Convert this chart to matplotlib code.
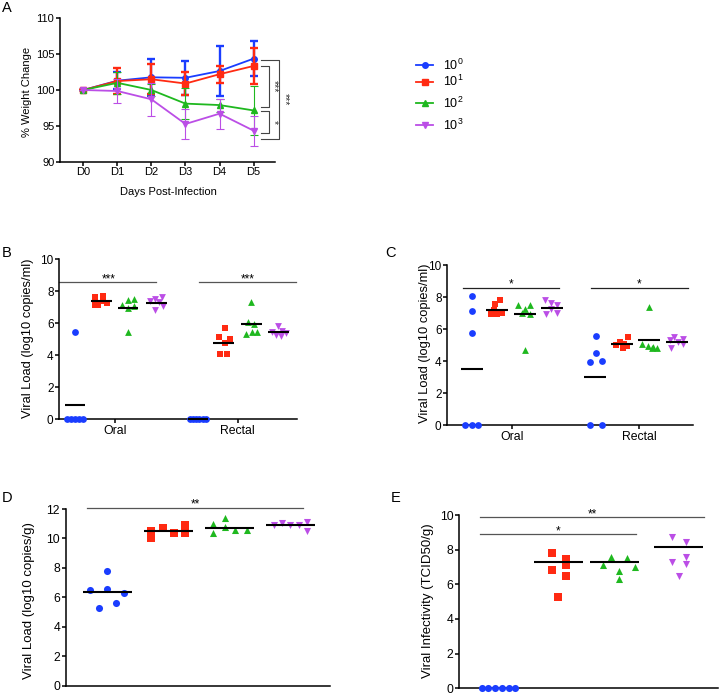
import matplotlib
matplotlib.use('Agg')
import matplotlib.pyplot as plt
from matplotlib.lines import Line2D

plt.rcParams['font.family'] = ['Liberation Sans', 'DejaVu Sans']
plt.rcParams['mathtext.fontset'] = 'custom'
plt.rcParams['mathtext.rm'] = 'Liberation Sans'
plt.rcParams['mathtext.it'] = 'Liberation Sans:italic'
plt.rcParams['mathtext.bf'] = 'Liberation Sans:bold'

# ---------------- data ----------------
dose_labels = [r'$\mathregular{10^0}$', r'$\mathregular{10^1}$',
               r'$\mathregular{10^2}$', r'$\mathregular{10^3}$']
days = ['D0', 'D1', 'D2', 'D3', 'D4', 'D5']

wt_blue = [100, 101.3, 101.77, 101.7, 102.65, 104.37]
wt_blue_sd = [0, 1.15, 2.6, 2.4, 3.45, 2.4]
wt_red = [100, 101.25, 101.5, 100.9, 102.2, 103.35]
wt_red_sd = [0, 1.85, 2.1, 1.6, 1.2, 2.5]
wt_green = [100, 101.0, 100.0, 98.1, 97.9, 97.15]
wt_green_sd = [0, 1.5, 0.9, 2.2, 0.9, 3.4]
wt_purple = [100, 99.86, 98.7, 95.26, 96.7, 94.33]
wt_purple_sd = [0, 1.65, 2.3, 2.1, 2.1, 2.1]

# significance brackets in A (top, bottom) and labels
a_brk1 = [103.39, 97.63]
a_brk2 = [97.11, 94.0]
a_brk3 = [104.14, 93.17]
a_brk_labels = ['***', '*', '***']

sites = ['Oral', 'Rectal']

# Panel B (log10 copies/ml)
b_oral_blue = [5.43, 0, 0, 0, 0, 0]
b_oral_red = [7.66, 7.72, 7.14, 7.24, 7.14, 7.39]
b_oral_green = [7.14, 7.45, 7.51, 6.97, 7.06, 5.43]
b_oral_purple = [7.4, 7.5, 7.65, 7.3, 6.83, 7.1]
b_rect_blue = [0, 0, 0, 0, 0, 0]
b_rect_red = [5.72, 5.12, 4.99, 4.74, 4.08, 4.08]
b_rect_green = [7.35, 6.05, 5.95, 5.3, 5.43, 5.43]
b_rect_purple = [5.8, 5.45, 5.5, 5.4, 5.25, 5.2]
b_oral_lines = [0.88, 7.39, 6.93, 7.28]
b_rect_lines = [0.0, 4.78, 5.95, 5.43]
b_sig_y = 8.56
b_sig_labels = ['***', '***']

# Panel C (log10 copies/ml)
c_oral_blue = [8.07, 7.13, 5.76, 0, 0, 0]
c_oral_red = [7.8, 7.59, 6.97, 6.97, 7.03, 7.17]
c_oral_green = [7.5, 7.5, 7.28, 7.02, 6.92, 4.7]
c_oral_purple = [7.8, 7.66, 7.5, 7.25, 6.92, 6.99]
c_rect_blue = [5.55, 4.5, 3.95, 4.0, 0, 0]
c_rect_red = [5.5, 5.2, 5.05, 5.0, 4.95, 4.8]
c_rect_green = [7.4, 5.05, 4.95, 4.8, 4.8, 4.9]
c_rect_purple = [5.5, 5.4, 5.3, 5.2, 5.1, 4.8]
c_oral_lines = [3.49, 7.22, 6.95, 7.3]
c_rect_lines = [2.99, 5.05, 5.32, 5.18]
c_sig_y = 8.57
c_sig_labels = ['*', '*']

# Panel D (log10 copies/g)
d_blue = [6.5, 5.25, 7.8, 6.6, 5.65, 6.3]
d_red = [10.51, 10.01, 10.69, 10.35, 10.92, 10.4]
d_green = [10.98, 10.35, 11.41, 10.76, 10.58, 10.58]
d_purple = [10.92, 11.03, 10.92, 10.92, 11.14, 10.51]
d_lines = [6.39, 10.49, 10.74, 10.92]
d_sig_y = 12.09
d_sig_label = '**'

# Panel E (TCID50/g)
e_blue = [0, 0, 0, 0, 0, 0]
e_red = [7.79, 6.83, 5.29, 7.46, 7.12, 6.5]
e_green = [7.12, 7.6, 6.79, 6.29, 7.5, 7.02]
e_purple = [8.75, 7.27, 6.48, 8.46, 7.6, 7.17]
e_lines = [None, 7.29, 7.27, 8.15]
e_sig_y = [9.87, 8.88]
e_sig_labels = ['**', '*']

# ---------------- style / layout ----------------
BLUE = '#1a3dff'
RED = '#ff2a12'
GREEN = '#1fb81f'
PURPLE = '#bb4ee6'
colors = [BLUE, RED, GREEN, PURPLE]
markers = ['o', 's', '^', 'v']
SIGC = '#555555'
STAR_FS = 8.5

W, H = 720, 694
fig = plt.figure(figsize=(W / 100, H / 100), dpi=100)


def add_ax(l, r, t, b):
    return fig.add_axes([l / W, 1 - b / H, (r - l) / W, (b - t) / H])


def P(x, y):
    return x / W, 1 - y / H


def style(ax, fs):
    for s in ['top', 'right']:
        ax.spines[s].set_visible(False)
    for s in ['left', 'bottom']:
        ax.spines[s].set_linewidth(1.1)
    ax.tick_params(axis='both', length=2.6, width=1.1, pad=1.5, labelsize=fs, colors='black')


def dots(ax, x0, vals, jit, ci, line, half, s=24):
    xs = [x0 + j for j in jit]
    ax.scatter(xs, vals, s=s, marker=markers[ci], color=colors[ci], linewidths=0,
               zorder=3, clip_on=False)
    if line is not None:
        ax.plot([x0 - half, x0 + half], [line, line], color='black', lw=1.5,
                zorder=4, solid_capstyle='butt', clip_on=False)


# ---------------- Panel A ----------------
axA = add_ax(60, 275, 18.3, 161.7)
style(axA, 8)
xd = list(range(len(days)))
series = [(wt_blue, wt_blue_sd, 1.7, 1.7), (wt_red, wt_red_sd, 1.7, 1.7),
          (wt_green, wt_green_sd, 0.8, 0.8), (wt_purple, wt_purple_sd, 0.8, 0.8)]
for i, (m, sd, elw, ct) in enumerate(series):
    axA.errorbar(xd, m, yerr=sd, color=colors[i], marker=markers[i], ms=4,
                 lw=1.3, elinewidth=elw, capsize=2.9, capthick=ct, zorder=2 + i,
                 clip_on=False)
axA.set_xlim(-0.685, 5.63)
axA.set_ylim(90, 110)
axA.set_yticks([90, 95, 100, 105, 110])
axA.set_xticks(xd)
axA.set_xticklabels(days)

# brackets (outside axes)
for (top, bot), x1, x2, lab, lx in [(a_brk1, 5.22, 5.44, a_brk_labels[0], 5.6),
                                     (a_brk2, 5.22, 5.44, a_brk_labels[1], 5.58),
                                     (a_brk3, 5.22, 5.76, a_brk_labels[2], 5.92)]:
    axA.plot([x1, x2, x2, x1], [top, top, bot, bot], color='#444444', lw=0.8,
             clip_on=False)
    axA.text(lx, (top + bot) / 2, lab, rotation=270, ha='center', va='center',
             fontsize=7.5, color='#333333')

fig.text(*P(26.7, 92), '% Weight Change', rotation=90, ha='center', va='center', fontsize=8)
fig.text(*P(168, 191.7), 'Days Post-Infection', ha='center', va='center', fontsize=8)

# legend
leg_y = [65, 81.5, 103.3, 125.3]
for i in range(4):
    y = 1 - leg_y[i] / H
    fig.add_artist(Line2D([416 / W, 433 / W], [y, y], color=colors[i], lw=1.3))
    fig.add_artist(Line2D([424.5 / W], [y], color=colors[i], marker=markers[i], ms=4, lw=0))
    fig.text(443 / W, y, dose_labels[i], ha='left', va='center', fontsize=9)

# ---------------- Panel B ----------------
axB = add_ax(59.3, 296.7, 259.3, 419)
style(axB, 8.5)
b_pos_oral = [0, 0.98, 1.96, 3.01]
b_pos_rect = [4.54, 5.49, 6.53, 7.52]
b_jit_oral = [[0, -0.3, -0.15, 0, 0.15, 0.3],
              [-0.25, 0.06, -0.13, 0.21, -0.25, 0.04],
              [-0.21, 0, 0.21, 0, 0.22, 0],
              [-0.25, -0.05, 0.2, 0.1, -0.05, 0.25]]
b_jit_rect = [[-0.3, -0.18, -0.06, 0.06, 0.18, 0.3],
              [0.04, -0.15, 0.25, 0.04, -0.12, 0.12],
              [-0.02, -0.12, 0.09, -0.22, 0, 0.21],
              [0, -0.25, 0.15, 0.28, -0.1, 0.1]]
b_oral = [b_oral_blue, b_oral_red, b_oral_green, b_oral_purple]
b_rect = [b_rect_blue, b_rect_red, b_rect_green, b_rect_purple]
for i in range(4):
    dots(axB, b_pos_oral[i], b_oral[i], b_jit_oral[i], i, b_oral_lines[i], 0.38)
    dots(axB, b_pos_rect[i], b_rect[i], b_jit_rect[i], i, b_rect_lines[i], 0.38)
axB.set_xlim(-0.59, 8.2)
axB.set_ylim(0, 10)
axB.set_yticks([0, 2, 4, 6, 8, 10])
axB.set_xticks([1.47, 6.01])
axB.set_xticklabels(sites, fontsize=8.8)
for (x1, x2), lx, lab in [((-0.59, 2.99), 1.25, b_sig_labels[0]),
                          ((4.58, 8.17), 6.37, b_sig_labels[1])]:
    axB.plot([x1, x2], [b_sig_y, b_sig_y], color=SIGC, lw=0.9, clip_on=False)
    axB.text(lx, b_sig_y, lab, ha='center', va='baseline', fontsize=STAR_FS)
fig.text(*P(28.3, 338.5), 'Viral Load (log10 copies/ml)', rotation=90,
         ha='center', va='center', fontsize=9.3)

# ---------------- Panel C ----------------
axC = add_ax(447.3, 693.3, 265, 425.3)
style(axC, 8.5)
c_pos_oral = [0, 0.94, 2.0, 3.0]
c_pos_rect = [4.62, 5.62, 6.65, 7.68]
c_jit_oral = [[0, 0, 0, -0.25, 0, 0.24],
              [0.12, -0.06, -0.2, 0.0, 0.2, -0.1],
              [-0.25, 0.19, 0, -0.12, 0.19, 0],
              [-0.25, -0.04, 0.19, -0.04, -0.21, 0.19]]
c_jit_rect = [[0.04, 0.04, -0.19, 0.25, -0.19, 0.25],
              [0.25, -0.05, 0.1, -0.2, 0.2, 0.05],
              [0, -0.28, -0.05, 0.1, 0.28, 0.15],
              [-0.1, 0.25, -0.25, 0.05, 0.25, -0.2]]
c_oral = [c_oral_blue, c_oral_red, c_oral_green, c_oral_purple]
c_rect = [c_rect_blue, c_rect_red, c_rect_green, c_rect_purple]
for i in range(4):
    dots(axC, c_pos_oral[i], c_oral[i], c_jit_oral[i], i, c_oral_lines[i], 0.41)
    dots(axC, c_pos_rect[i], c_rect[i], c_jit_rect[i], i, c_rect_lines[i], 0.41)
axC.set_xlim(-0.91, 8.3)
axC.set_ylim(0, 10)
axC.set_yticks([0, 2, 4, 6, 8, 10])
axC.set_xticks([1.5, 6.28])
axC.set_xticklabels(sites, fontsize=8.8)
for (x1, x2), lx, lab in [((-0.34, 3.28), 1.47, c_sig_labels[0]),
                          ((4.47, 8.11), 6.28, c_sig_labels[1])]:
    axC.plot([x1, x2], [c_sig_y, c_sig_y], color='#222222', lw=0.9, clip_on=False)
    axC.text(lx, c_sig_y, lab, ha='center', va='baseline', fontsize=STAR_FS)
fig.text(*P(425, 343.3), 'Viral Load (log10 copies/ml)', rotation=90,
         ha='center', va='center', fontsize=9.3)

# ---------------- Panel D ----------------
axD = add_ax(65.7, 330, 509, 685.7)
style(axD, 8.8)
d_jit = [[-0.284, -0.137, 0, 0, 0.137, 0.273],
         [-0.28, -0.28, -0.093, 0.087, 0.27, 0.27],
         [-0.26, -0.26, -0.077, -0.077, 0.10, 0.29],
         [-0.27, -0.137, 0, 0.137, 0.27, 0.27]]
d_vals = [d_blue, d_red, d_green, d_purple]
for i in range(4):
    dots(axD, i, d_vals[i], d_jit[i], i, d_lines[i], 0.40, s=26)
axD.set_xlim(-0.68, 3.65)
axD.set_ylim(0, 12)
axD.set_yticks([0, 2, 4, 6, 8, 10, 12])
axD.set_xticks([])
axD.plot([-0.336, 3.21], [d_sig_y, d_sig_y], color=SIGC, lw=0.9, clip_on=False)
axD.text(1.44, d_sig_y, d_sig_label, ha='center', va='baseline', fontsize=STAR_FS)
fig.text(*P(29, 600.8), 'Viral Load (log10 copies/g)', rotation=90,
         ha='center', va='center', fontsize=9.5)

# ---------------- Panel E ----------------
axE = add_ax(459.3, 718, 515, 688.3)
style(axE, 8.8)
e_pos = [0, 1.0, 1.94, 3.0]
e_jit = [[-0.28, -0.17, -0.055, 0.055, 0.17, 0.28],
         [-0.105, -0.105, 0, 0.13, 0.13, 0.13],
         [-0.2, -0.07, 0.067, 0.067, 0.2, 0.33],
         [-0.1, -0.1, 0.01, 0.13, 0.13, 0.13]]
e_vals = [e_blue, e_red, e_green, e_purple]
for i in range(4):
    dots(axE, e_pos[i], e_vals[i], e_jit[i], i, e_lines[i], 0.41, s=26)
axE.set_xlim(-0.65, 3.66)
axE.set_ylim(0, 10)
axE.set_yticks([0, 2, 4, 6, 8, 10])
axE.set_xticks([])
for y, (x1, x2), lx, lab in [(e_sig_y[0], (-0.305, 3.42), 1.56, e_sig_labels[0]),
                             (e_sig_y[1], (-0.305, 2.29), 1.0, e_sig_labels[1])]:
    axE.plot([x1, x2], [y, y], color=SIGC, lw=0.9, clip_on=False)
    axE.text(lx, y, lab, ha='center', va='baseline', fontsize=STAR_FS)
fig.text(*P(428.3, 600.8), 'Viral Infectivity (TCID50/g)', rotation=90,
         ha='center', va='center', fontsize=9.5)

# ---------------- panel letters ----------------
for lab, (x, y) in zip('ABCDE', [(7.2, 7.7), (6.7, 252.7), (391, 253.3),
                                 (6.7, 498), (396, 498.5)]):
    fig.text(*P(x, y), lab, ha='center', va='center', fontsize=10.5)

fig.savefig('out.png', dpi=100)
